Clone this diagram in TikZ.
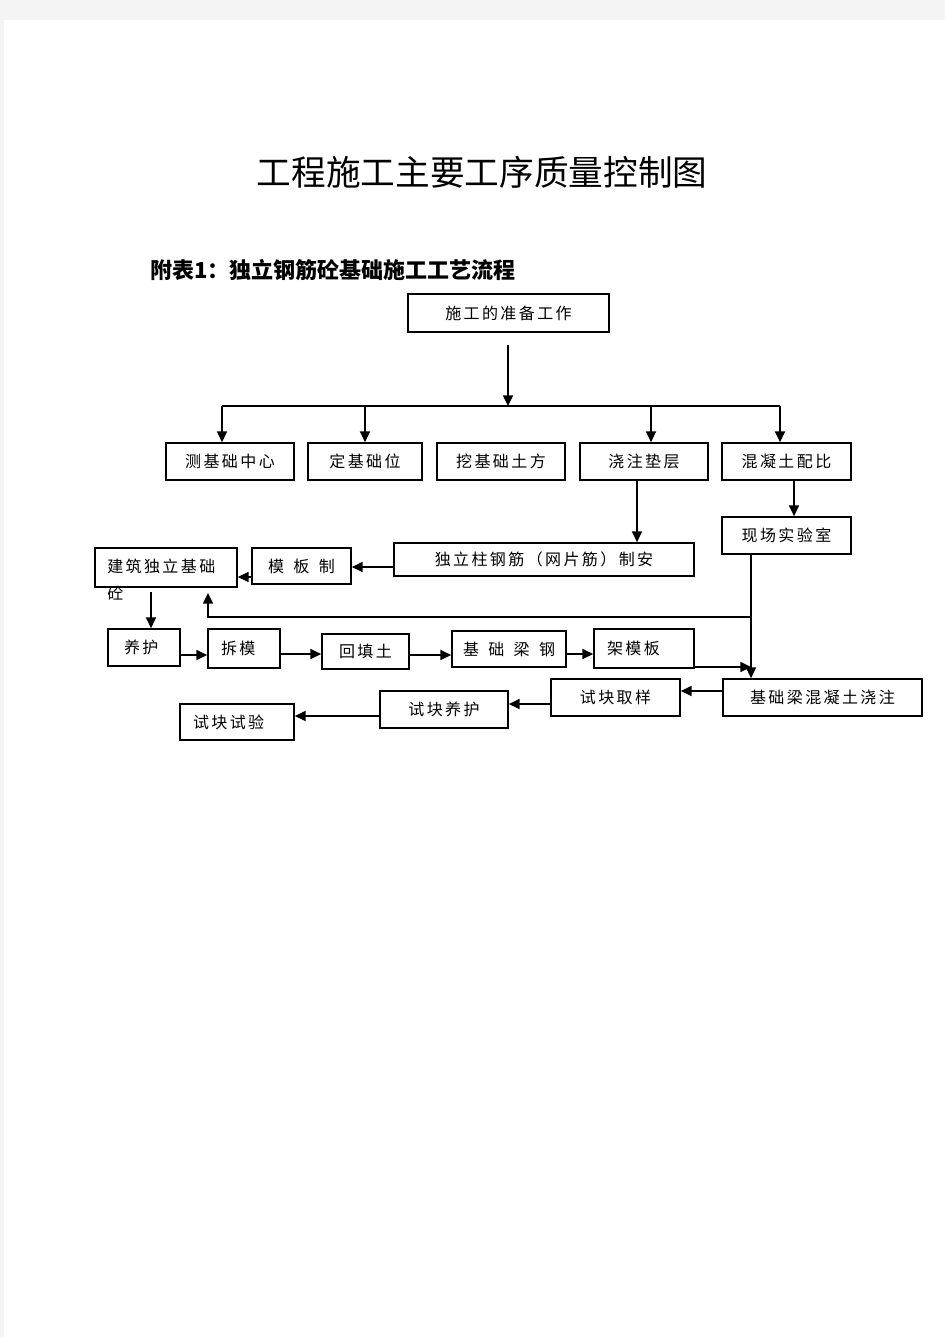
\documentclass[tikz,border=0pt]{standalone}
\usepackage{fontspec}
\usetikzlibrary{arrows.meta}
\newfontfamily\cjk{Noto Sans CJK SC}
\newfontfamily\cjkbox[LetterSpace=15]{Noto Sans CJK SC}
\definecolor{pagegray}{HTML}{F4F4F4}

\tikzset{
  stepbox/.style={draw, line width=1.3pt, inner sep=0pt, font=\cjkbox\fontsize{12}{14}\selectfont},
  boxsize/.style 2 args={minimum width=#1*0.75pt, minimum height=#2*0.75pt},
  flow/.style={line width=1.1pt},
  arr/.style={flow, -{Triangle[length=8pt,width=7.5pt]}}
}

\begin{document}
\begin{tikzpicture}[x=0.75pt,y=-0.75pt]
\fill[pagegray] (0,0) rectangle (945,1337);
\fill[white] (4,20) rectangle (945,1337);
\useasboundingbox (0,0) rectangle (945,1337);

% headings
\node[font=\cjk\fontsize{26}{30}\selectfont] (title) at (482,172) {工程施工主要工序质量控制图};
\node[anchor=west, inner sep=0pt, font=\cjk\bfseries\fontsize{16.5}{20}\selectfont] (sub) at (150,270) {附表1：独立钢筋砼基础施工工艺流程};

% boxes
\node[stepbox, boxsize={201}{38}] (prep) at (508.5,313) {施工的准备工作};
\node[stepbox, boxsize={128}{37}] (ce) at (230,461.5) {测基础中心};
\node[stepbox, boxsize={114}{37}] (ding) at (365,461.5) {定基础位};
\node[stepbox, boxsize={128}{37}] (wa) at (501,461.5) {挖基础土方};
\node[stepbox, boxsize={128}{37}] (jiao) at (644,461.5) {浇注垫层};
\node[stepbox, boxsize={129}{37}] (hun) at (786.5,461.5) {混凝土配比};
\node[stepbox, boxsize={129}{37}] (xian) at (786.5,535.5) {现场实验室};
\node[stepbox, boxsize={300}{33}] (zhu) at (544,559.5) {独立柱钢筋（网片筋）制安};
\node[stepbox, boxsize={99}{36}] (mo) at (301.5,566) {模\hspace{7pt}板\hspace{7pt}制};
\node[stepbox, boxsize={142}{39}] (jz) at (166,567.5) {};
\node[anchor=north west, inner sep=0pt, align=left, font=\cjkbox\fontsize{12}{20}\selectfont] (jztext) at (107,559) {建筑独立基础\\砼};
\node[stepbox, boxsize={72}{37}, align=left, text width=40*0.75pt, inner xsep=14*0.75pt] (yang) at (144,647.5) {养护};
\node[stepbox, boxsize={72}{39}, align=left, text width=46*0.75pt, inner xsep=13*0.75pt] (chai) at (244,648.5) {拆模};
\node[stepbox, boxsize={87}{35}] (hui) at (365.5,651.5) {回填土};
\node[stepbox, boxsize={114}{36}] (gang) at (509,649) {基\hspace{7pt}础\hspace{7pt}梁\hspace{7pt}钢};
\node[stepbox, boxsize={100}{39}, align=left, text width=74*0.75pt, inner xsep=13*0.75pt] (jia) at (644,648.5) {架模板};
\node[stepbox, boxsize={199}{37}] (jl) at (822.5,697.5) {基础梁混凝土浇注};
\node[stepbox, boxsize={129}{37}] (qu) at (615.5,697.5) {试块取样};
\node[stepbox, boxsize={128}{37}] (syang) at (444,709.5) {试块养护};
\node[stepbox, boxsize={114}{36}, align=left, text width=88*0.75pt, inner xsep=13*0.75pt] (sy) at (237,722) {试块试验};

% bus under the first box
\coordinate (top) at (508,345);
\coordinate (bus) at (508,406);
\coordinate (b1) at (222,406);
\coordinate (b2) at (365,406);
\coordinate (b3) at (651,406);
\coordinate (b4) at (780,406);
\draw[arr] (top) -- (bus);
\draw[flow] (b1) -- (b4);
\draw[arr] (b1) -- (b1 |- ce.north);
\draw[arr] (b2) -- (b2 |- ding.north);
\draw[arr] (b3) -- (b3 |- jiao.north);
\draw[arr] (b4) -- (b4 |- hun.north);

% downward links
\coordinate (d1) at (637,0);
\coordinate (d2) at (794,0);
\draw[arr] (d1 |- jiao.south) -- (d1 |- zhu.north);
\draw[arr] (d2 |- hun.south) -- (d2 |- xian.north);

% to the left
\coordinate (h1) at (0,567);
\coordinate (h2) at (0,577);
\draw[arr] (zhu.west |- h1) -- (mo.east |- h1);
\draw[arr] (mo.west |- h2) -- (jz.east |- h2);
\coordinate (j1) at (151,592);
\draw[arr] (j1) -- (j1 |- yang.north);

% lab line and branch back
\coordinate (v1) at (751,0);
\coordinate (k1) at (751,617);
\coordinate (k2) at (208,617);
\coordinate (k3) at (208,593);
\draw[arr] (v1 |- xian.south) -- (v1 |- jl.north);
\draw[arr] (k1) -- (k2) -- (k3);

% second row
\coordinate (r1) at (0,655);
\coordinate (r2) at (0,654);
\coordinate (r3) at (0,667);
\draw[arr] (yang.east |- r1) -- (chai.west |- r1);
\draw[arr] (chai.east |- r2) -- (hui.west |- r2);
\draw[arr] (hui.east |- r1) -- (gang.west |- r1);
\draw[arr] (gang.east |- r2) -- (jia.west |- r2);
\draw[arr] (jia.east |- r3) -- (v1 |- r3);

% test blocks
\coordinate (t1) at (0,691);
\coordinate (t2) at (0,704);
\coordinate (t3) at (0,716);
\draw[arr] (jl.west |- t1) -- (qu.east |- t1);
\draw[arr] (qu.west |- t2) -- (syang.east |- t2);
\draw[arr] (syang.west |- t3) -- (sy.east |- t3);
\end{tikzpicture}
\end{document}
